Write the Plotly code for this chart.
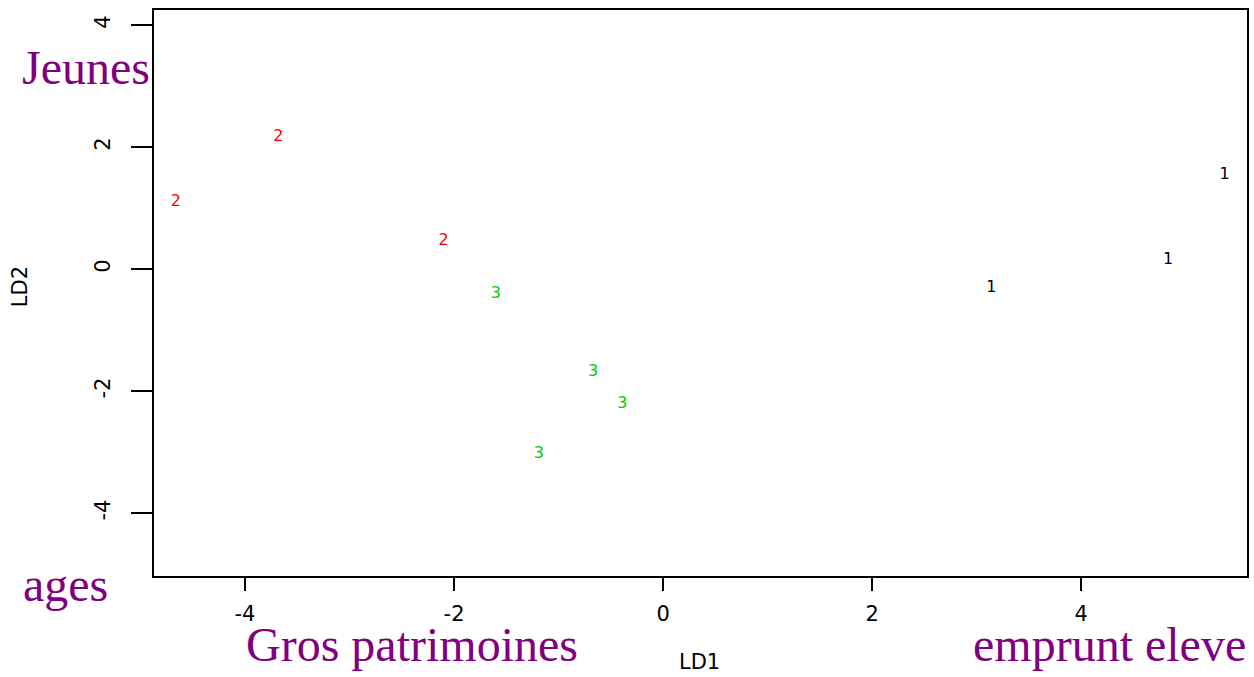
import plotly.graph_objects as go

# Data (LDA scores)
groups = ["2", "2", "2", "3", "3", "3", "3", "1", "1", "1"]
ld1 = [-3.68, -4.66, -2.10, -1.60, -0.67, -0.39, -1.19, 3.14, 4.83, 5.37]
ld2 = [2.16, 1.10, 0.46, -0.41, -1.69, -2.21, -3.03, -0.30, 0.15, 1.54]
group_colors = {"1": "#000000", "2": "#FF0000", "3": "#00CC00"}
x_ticks = [-4, -2, 0, 2, 4]
y_ticks = [-4, -2, 0, 2, 4]

W, H = 1254, 677
L, R, T, B = 154, 5, 10, 101
PW, PH = W - L - R, H - T - B


def px(x):
    return (x - L) / PW


def py(y):
    return (H - B - y) / PH


SANS = "DejaVu Sans, Liberation Sans, Arial, sans-serif"

fig = go.Figure()
fig.add_trace(go.Scatter(
    x=ld1, y=ld2, mode="text", text=groups,
    textfont=dict(family=SANS, size=16,
                  color=[group_colors[g] for g in groups]),
    textposition="middle center", hoverinfo="x+y+text", showlegend=False,
))

fig.update_layout(
    width=W, height=H,
    margin=dict(l=L, r=R, t=T, b=B),
    paper_bgcolor="white", plot_bgcolor="white",
    xaxis=dict(range=[-4.87, 5.585], tickvals=x_ticks, ticktext=[str(v) for v in x_ticks],
               showgrid=False, zeroline=False, showline=True, mirror=True,
               linecolor="black", linewidth=1.5, ticks="outside", ticklen=13,
               tickcolor="black", tickwidth=1.5, ticklabelstandoff=5,
               tickfont=dict(family=SANS, size=21, color="black")),
    yaxis=dict(range=[-5.03, 4.25], tickvals=y_ticks, ticktext=[str(v) for v in y_ticks],
               showgrid=False, zeroline=False, showline=True, mirror=True,
               linecolor="black", linewidth=1.5, ticks="outside", ticklen=21,
               tickcolor="black", tickwidth=1.5, tickangle=-90, ticklabelstandoff=13,
               tickfont=dict(family=SANS, size=21, color="black")),
    showlegend=False,
)

sans = dict(family=SANS, size=21, color="black")
serif = dict(family="Liberation Serif, Times New Roman, serif", size=48, color="#800080")

annos = [
    dict(text="LD1", x=px(700), y=py(662), font=sans),
    dict(text="LD2", x=px(20), y=py(287), font=sans, textangle=-90),
    dict(text="Jeunes", x=px(86), y=py(67), font=serif),
    dict(text="ages", x=px(65), y=py(584), font=serif),
    dict(text="Gros patrimoines", x=px(412), y=py(644), font=serif),
    dict(text="emprunt eleve", x=px(1111), y=py(644), font=serif),
]
for a in annos:
    fig.add_annotation(xref="paper", yref="paper", showarrow=False,
                       xanchor="center", yanchor="middle", **a)

fig.write_html("out.html")
